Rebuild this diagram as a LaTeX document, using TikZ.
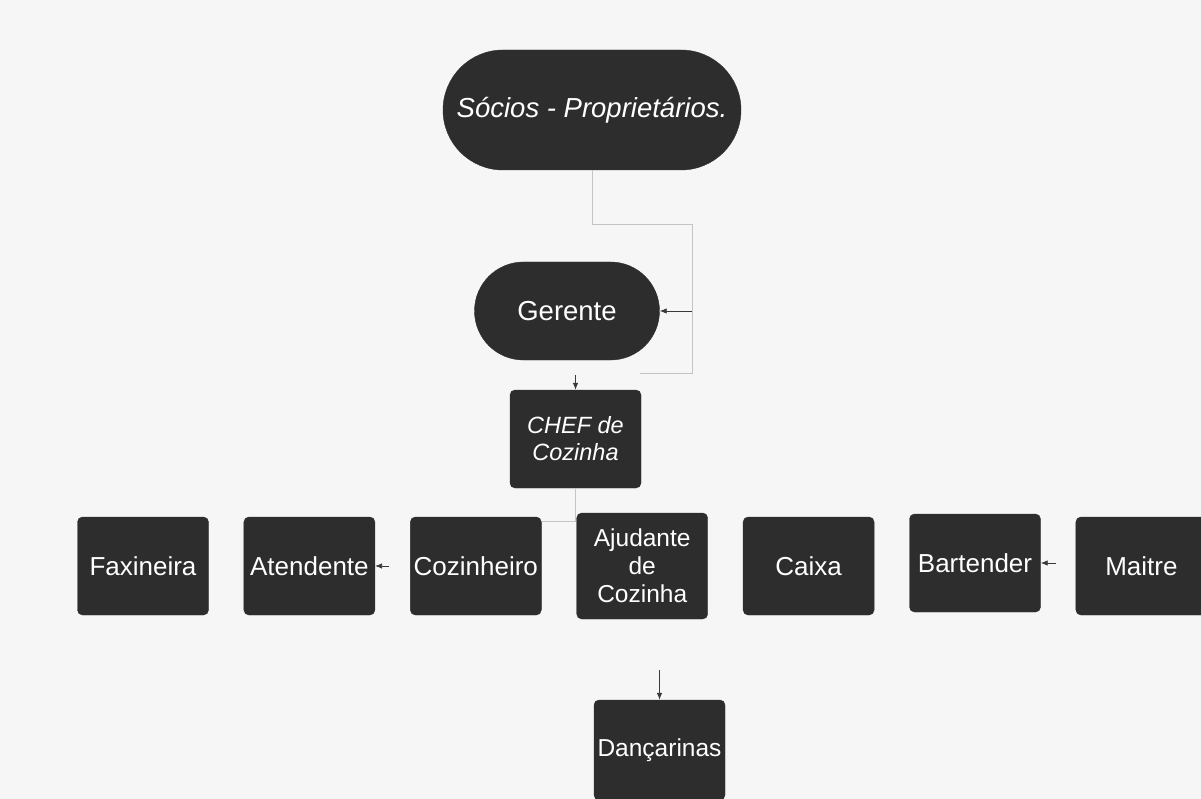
\documentclass[tikz,border=0pt]{standalone}
\usepackage{fontspec}
\setmainfont{Liberation Sans}
\usetikzlibrary{arrows.meta,positioning,calc}
\definecolor{orgBg}{HTML}{F6F6F6}
\definecolor{orgBox}{HTML}{2D2D2D}
\definecolor{orgLine}{HTML}{C4C4C4}
\definecolor{orgTip}{HTML}{3A3A3A}

\begin{document}
\begin{tikzpicture}[
  x=1pt,y=-1pt,
  node distance=35pt,
  box/.style={draw=orgBox,fill=orgBox,text=white,rounded corners=5pt,minimum width=131pt,minimum height=98pt,inner sep=1pt,align=center,font=\fontsize{26}{29}\selectfont},
  pill/.style={box,rounded corners=49pt},
  link/.style={orgLine,line width=1pt},
  flow/.style={-{Latex[length=7pt,width=5.5pt]},orgTip,line width=0.8pt}
]
  \useasboundingbox[fill=orgBg] (0,0) rectangle (1201,799);
  \node[pill,minimum width=298pt,minimum height=120pt,rounded corners=60pt,font=\itshape\fontsize{27.5}{32}\selectfont] (socios) at (592,110) {Sócios - Proprietários.};
  \node[pill,minimum width=185pt,font=\fontsize{27.5}{30}\selectfont] (ger) at (567,311) {Gerente};
  \node[box,font=\itshape\fontsize{23.5}{27}\selectfont] (chef) at (575.5,439) {CHEF de\\Cozinha};
  \node[box] (fax) at (143,566) {Faxineira};
  \node[box,right=of fax] (aten) {Atendente};
  \node[box,right=of aten] (coz) {Cozinheiro};
  \node[box,right=of coz,minimum height=106pt,font=\fontsize{24.5}{28}\selectfont] (ajud) {Ajudante\\de\\Cozinha};
  \node[box,right=of ajud] (caixa) {Caixa};
  \node[box,right=of caixa,yshift=3pt] (bart) {Bartender};
  \node[box,right=of bart,yshift=-3pt] (maitre) {Maitre};
  \node[box,minimum height=100pt,inner sep=0pt,font=\fontsize{24.5}{28}\selectfont] (danc) at (659.5,750) {Dançarinas};
  \coordinate (jA) at (692,225);
  \coordinate (jB) at (692,373);
  \coordinate (jC) at (640,373);
  \draw[link] (socios.south) |- (jA) -- (jB) -- (jC);
  \draw[flow] (ger.east -| jA) -- (ger.east);
  \draw[flow] ($(chef.north)+(0,15pt)$) -- (chef.north);
  \draw[link] (chef.south) |- ($(coz.north east)+(0,-5pt)$);
  \draw[flow] ($(aten.east)+(14pt,0)$) -- (aten.east);
  \draw[flow] ($(bart.east)+(15pt,0)$) -- (bart.east);
  \draw[flow] ($(danc.north)+(0,30pt)$) -- (danc.north);
\end{tikzpicture}
\end{document}
